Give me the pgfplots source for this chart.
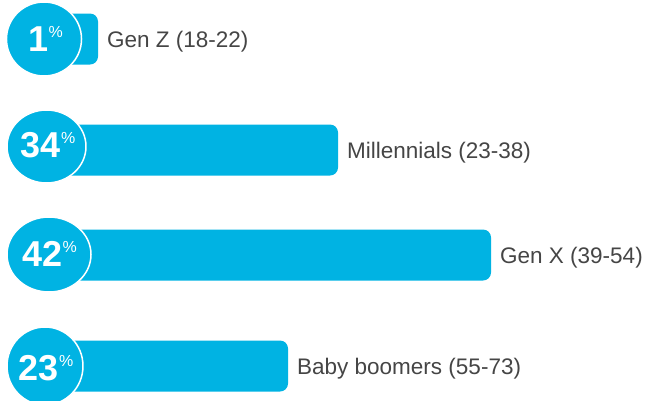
\documentclass[border=0pt]{standalone}
\usepackage{pgfplots}
\pgfplotsset{compat=1.18}
\usepackage{pgfplotstable}
\usepackage{fontspec}
\setmainfont{Liberation Sans}
\definecolor{barblue}{HTML}{00B3E3}
\definecolor{labelgray}{HTML}{454545}

% bar ends are given in picture units (pixels right of the bar start)
\pgfplotstableread[col sep=comma]{
y,len,label
39,48,Gen Z (18-22)
150,288,Millennials (23-38)
255,441,Gen X (39-54)
366,238,Baby boomers (55-73)
}\bars

\pgfplotstableread[col sep=comma]{
x,y,pct
-4.5,39,1
-2,145.5,34
-0.5,254,42
-4,368,23
}\pcts

\newcommand\pct[1]{{\bfseries\fontsize{36}{36}\selectfont #1\kern0.5pt\raisebox{14pt}{\mdseries\fontsize{16}{16}\selectfont\%}}}

\begin{document}
\begin{tikzpicture}
\begin{axis}[
  scale only axis, width=647pt, height=400pt,
  xmin=-50, xmax=597, ymin=0, ymax=400, y dir=reverse,
  hide axis, clip=false,
]
\addplot[xbar, bar width=51, fill=barblue, draw=none, rounded corners=8pt,
  nodes near coords, point meta=explicit symbolic,
  nodes near coords style={anchor=base west, xshift=9pt, yshift=-8pt,
    text=labelgray, inner sep=0pt, font=\fontsize{22.5}{22.5}\selectfont}]
  table[x=len, y=y, meta=label] {\bars};

\addplot[only marks, mark=*, mark size=37,
  mark options={fill=barblue, draw=white, line width=1.5pt, xscale=1.014}]
  coordinates {(-6,39)};
\addplot[only marks, mark=*, mark size=36.5,
  mark options={fill=barblue, draw=white, line width=1.5pt, xscale=1.082}]
  coordinates {(-3.5,146.5)};
\addplot[only marks, mark=*, mark size=37.5,
  mark options={fill=barblue, draw=white, line width=1.5pt, xscale=1.12}]
  coordinates {(-1,254.5)};
\addplot[only marks, mark=*, mark size=39,
  mark options={fill=barblue, draw=white, line width=1.5pt, xscale=0.974}]
  coordinates {(-5,366)};

\addplot[only marks, mark=none, draw=none,
  nodes near coords={\pct{\pgfplotspointmeta}}, point meta=explicit symbolic,
  nodes near coords style={anchor=center, text=white, inner sep=0pt}]
  table[x=x, y=y, meta=pct] {\pcts};
\end{axis}
\pgfresetboundingbox
\useasboundingbox (current axis.south west) rectangle (current axis.north east);
\end{tikzpicture}
\end{document}
